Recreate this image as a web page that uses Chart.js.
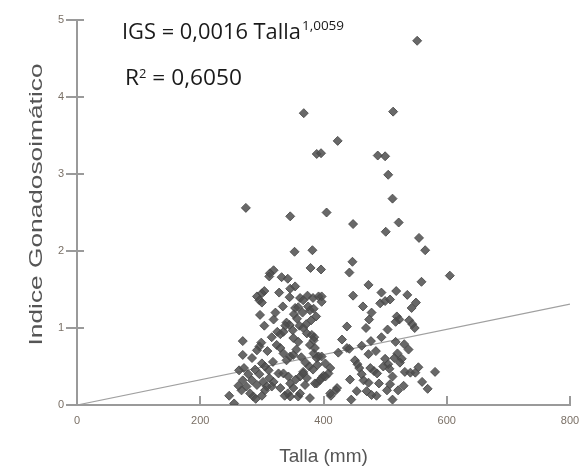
<!DOCTYPE html>
<html>
<head>
<meta charset="utf-8">
<script src="https://cdn.jsdelivr.net/npm/chart.js@4"></script>
<style>
    body { margin: 0; background: #fff; }
    #wrap { width: 583px; height: 475px; }
</style>
</head>
<body>
<div id="wrap"><canvas id="igsChart"></canvas></div>
<script>
// Talla (mm) and IGS
const talla = [
    552, 368, 513, 423, 389, 396, 488, 500, 505, 512, 274, 346, 405, 448, 501, 522, 555, 565, 353, 382,
    447, 605, 379, 396, 442, 559, 473, 494, 518, 536, 448, 464, 492, 500, 508, 543, 550, 478, 474, 519,
    523, 517, 539, 544, 548, 438, 469, 504, 477, 494, 517, 531, 538, 438, 442, 424, 473, 520, 515, 500,
    527, 451, 455, 458, 505, 507, 476, 482, 487, 524, 532, 541, 549, 554, 581, 465, 473, 443, 508, 521,
    569, 454, 470, 478, 420, 412, 445, 512, 503, 394, 400, 389,
    319, 313, 332, 342, 312, 346, 354, 328, 292, 300, 304, 296, 300, 362, 374, 383, 392, 334, 354, 359,
    375, 378, 384, 297, 319, 304, 340, 345, 338, 361, 330, 335, 373, 381, 385, 351, 359, 269, 299, 296,
    292, 269, 284, 263, 271, 300, 305, 311, 324, 330, 335, 340, 346, 351, 318, 327, 269, 275, 267, 284,
    292, 281, 286, 302, 308, 305, 319, 316, 335, 343, 346, 351, 342, 346, 359, 362, 367, 362, 373, 386,
    247, 255, 384, 392,
    367, 397, 397, 367, 384, 378, 386, 389, 397, 403, 411, 408, 367, 397, 403, 411, 422,
    345, 352, 357, 366, 372, 380, 388, 350, 356, 364, 371, 377, 383, 390, 325, 322, 316, 309, 312, 296,
    289, 278, 262, 290, 300, 330, 337, 355, 370, 378, 430, 462, 485, 497, 512, 530, 560, 486, 462, 490
];
const igs = [
    4.73, 3.79, 3.81, 3.43, 3.26, 3.27, 3.24, 3.23, 2.99, 2.68, 2.56, 2.45, 2.50, 2.35, 2.25, 2.37, 2.17, 2.01, 1.99, 2.01,
    1.86, 1.68, 1.78, 1.76, 1.72, 1.60, 1.56, 1.46, 1.48, 1.43, 1.42, 1.28, 1.32, 1.35, 1.37, 1.26, 1.33, 1.20, 1.11, 1.15,
    1.11, 1.08, 1.10, 1.05, 1.00, 1.02, 1.00, 0.98, 0.83, 0.88, 0.82, 0.79, 0.72, 0.74, 0.73, 0.68, 0.66, 0.67, 0.61, 0.60,
    0.60, 0.58, 0.53, 0.48, 0.53, 0.47, 0.48, 0.44, 0.41, 0.55, 0.43, 0.42, 0.42, 0.49, 0.43, 0.32, 0.29, 0.33, 0.27, 0.19,
    0.21, 0.18, 0.18, 0.13, 0.19, 0.12, 0.07, 0.07, 0.19, 0.32, 0.38, 0.28,
    1.75, 1.71, 1.66, 1.64, 1.67, 1.51, 1.54, 1.46, 1.41, 1.45, 1.48, 1.36, 1.33, 1.39, 1.42, 1.39, 1.41, 1.28, 1.26, 1.27,
    1.28, 1.23, 1.25, 1.17, 1.11, 1.03, 1.07, 1.04, 1.03, 1.03, 0.92, 0.95, 0.93, 0.91, 0.88, 0.87, 0.82, 0.83, 0.81, 0.76,
    0.71, 0.65, 0.61, 0.45, 0.48, 0.54, 0.50, 0.45, 0.78, 0.74, 0.67, 0.58, 0.63, 0.65, 0.56, 0.41, 0.32, 0.24, 0.19, 0.32,
    0.26, 0.15, 0.11, 0.30, 0.24, 0.19, 0.30, 0.24, 0.41, 0.37, 0.28, 0.22, 0.15, 0.11, 0.11, 0.15, 0.43, 0.37, 0.35, 0.28,
    0.12, 0.02, 0.67, 0.63,
    1.36, 1.41, 1.34, 1.00, 0.84, 0.78, 0.74, 0.61, 0.63, 0.54, 0.48, 0.41, 0.41, 0.35, 0.37, 0.15, 0.22,
    1.40, 1.18, 1.12, 1.20, 1.05, 1.10, 1.15, 0.97, 0.72, 0.62, 0.55, 0.50, 0.46, 0.52, 0.95, 1.20, 0.88, 0.70, 0.35, 0.40,
    0.46, 0.40, 0.25, 0.08, 0.12, 0.22, 0.12, 0.33, 0.26, 0.09, 0.85, 0.77, 0.70, 0.50, 0.37, 0.25, 0.30, 0.12, 0.40, 0.28
];

// fitted curve, ends
const fitTalla = [0, 800];
const fitIgs = [0, 1.31];

const xTicks = [0, 200, 400, 600, 800];
const yTicks = [0, 1, 2, 3, 4, 5];

const axisColor = '#9a9a9a';
const yTitle = 'Indice Gonadosoimático';

// tick marks: y ticks cross the axis, x ticks point up into the plot
const tickMarks = {
    id: 'tickMarks',
    afterDraw(chart) {
        const c = chart.ctx;
        const xs = chart.scales.x, ys = chart.scales.y;
        c.save();
        c.strokeStyle = axisColor;
        c.lineWidth = 2;
        yTicks.forEach(v => {
            const py = Math.round(ys.getPixelForValue(v));
            c.beginPath();
            c.moveTo(xs.left - 11, py);
            c.lineTo(xs.left + 7, py);
            c.stroke();
        });
        xTicks.forEach(v => {
            const px = Math.round(xs.getPixelForValue(v));
            c.beginPath();
            c.moveTo(px, ys.bottom - 9);
            c.lineTo(px, ys.bottom);
            c.stroke();
        });
        c.restore();
    }
};

// y title (drawn stretched like the original) and the equation
const labels = {
    id: 'labels',
    afterDraw(chart) {
        const c = chart.ctx;
        const ys = chart.scales.y;
        c.save();
        c.fillStyle = '#555';
        c.font = '19px "Liberation Sans"';
        c.textAlign = 'center';
        c.textBaseline = 'middle';
        c.translate(37, (ys.top + ys.bottom) / 2 - 8);
        c.rotate(-Math.PI / 2);
        const tw = c.measureText(yTitle).width;
        c.scale(282 / tw, 1);
        c.fillText(yTitle, 0, 0);
        c.restore();

        c.save();
        c.fillStyle = '#1a1a1a';
        c.textBaseline = 'alphabetic';
        c.translate(122, 0);
        c.scale(1.04, 1);
        c.font = '21px "Open Sans"';
        const main = 'IGS = 0,0016 Talla';
        c.fillText(main, 0, 39);
        const w = c.measureText(main).width;
        c.font = '13px "Open Sans"';
        c.fillText('1,0059', w + 1, 30);
        c.restore();

        c.save();
        c.fillStyle = '#1a1a1a';
        c.textBaseline = 'alphabetic';
        c.translate(125, 0);
        c.scale(1.08, 1);
        c.font = '21px "Open Sans"';
        c.fillText('R', 0, 85);
        const rw = c.measureText('R').width;
        c.font = '12px "Open Sans"';
        c.fillText('2', rw, 78);
        const sw = c.measureText('2').width;
        c.font = '21px "Open Sans"';
        c.fillText(' = 0,6050', rw + sw, 85);
        c.restore();
    }
};

new Chart(document.getElementById('igsChart'), {
    type: 'scatter',
    data: {
        datasets: [
            {
                label: 'IGS',
                data: talla.map((t, i) => ({ x: t, y: igs[i] })),
                pointStyle: 'rectRot',
                pointRadius: 4.5,
                backgroundColor: 'rgba(78, 78, 78, 0.85)',
                borderColor: 'rgba(70, 70, 70, 0.85)',
                borderWidth: 1
            },
            {
                label: 'Ajuste',
                data: fitTalla.map((t, i) => ({ x: t, y: fitIgs[i] })),
                showLine: true,
                pointRadius: 0,
                borderColor: '#a0a0a0',
                borderWidth: 1.2
            }
        ]
    },
    options: {
        responsive: true,
        maintainAspectRatio: false,
        animation: false,
        layout: { padding: { top: 20, right: 13, left: 0, bottom: 0 } },
        plugins: {
            legend: { display: false },
            tooltip: { enabled: false }
        },
        scales: {
            x: {
                type: 'linear',
                min: 0,
                max: 800,
                afterBuildTicks: s => { s.ticks = xTicks.map(v => ({ value: v })); },
                afterFit: s => { s.height = 70; s.paddingRight = 0; s.paddingLeft = 0; },
                grid: { display: false, drawTicks: false },
                border: { display: true, color: axisColor, width: 2 },
                ticks: {
                    color: '#7a7066',
                    font: { family: 'Liberation Sans', size: 11 },
                    padding: 9,
                    maxRotation: 0
                },
                title: {
                    display: true,
                    text: 'Talla (mm)',
                    color: '#555',
                    font: { family: 'Liberation Sans', size: 19 },
                    padding: { top: 4, bottom: 7 }
                }
            },
            y: {
                type: 'linear',
                min: 0,
                max: 5,
                afterBuildTicks: s => { s.ticks = yTicks.map(v => ({ value: v })); },
                afterFit: s => { s.width = 77; },
                grid: { display: false, drawTicks: false },
                border: { display: true, color: axisColor, width: 2 },
                ticks: {
                    color: '#7a7066',
                    font: { family: 'Liberation Sans', size: 11 },
                    padding: 13
                },
                title: { display: false }
            }
        }
    },
    plugins: [tickMarks, labels]
});
</script>
</body>
</html>
